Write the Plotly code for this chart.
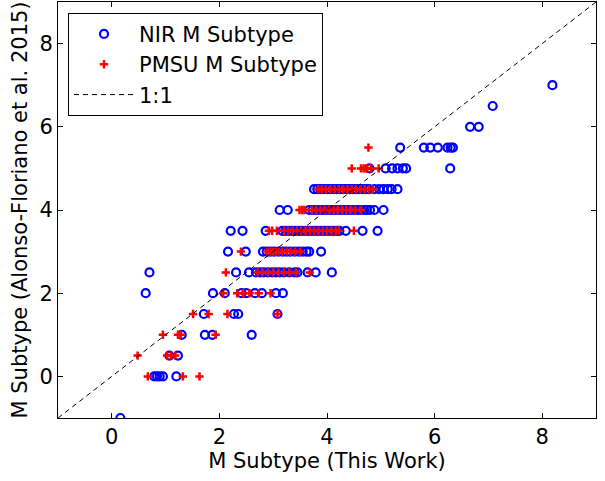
import plotly.graph_objects as go

# ---------------- data ----------------
# NIR M subtype (blue open circles): x = this work, y = Alonso-Floriano et al. 2015
nir_x = [
    0.16,
    0.79, 0.84, 0.89, 0.95, 1.20,
    1.07, 1.23,
    1.30, 1.73, 1.87, 2.60,
    1.71, 2.27, 2.35, 3.08,
    0.63, 1.88, 2.10, 2.41, 2.50, 2.66, 2.79, 3.05, 3.18,
    0.70, 2.31, 2.55, 2.68, 2.75, 2.82, 2.90, 2.98, 3.05, 3.12, 3.20, 3.30, 3.40, 3.45, 3.64, 3.79, 4.09,
    2.16, 2.49, 2.81, 2.88, 2.95, 3.02, 3.10, 3.18, 3.25, 3.32, 3.40, 3.48, 3.55, 3.62, 3.67, 3.89,
    2.21, 2.43, 2.86, 3.17, 3.23, 3.29, 3.35, 3.41, 3.47, 3.53, 3.59, 3.65, 3.71, 3.77, 3.83, 3.89,
    3.95, 4.01, 4.07, 4.13, 4.19, 4.23, 4.35, 4.66, 4.94,
    3.12, 3.27, 3.67, 3.73, 3.79, 3.85, 3.91, 3.97, 4.03, 4.09, 4.15, 4.21, 4.27, 4.33, 4.39, 4.45,
    4.51, 4.57, 4.63, 4.69, 4.74, 4.80, 4.88, 5.05,
    3.76, 3.82, 3.88, 3.94, 4.00, 4.06, 4.12, 4.18, 4.24, 4.30, 4.36, 4.42, 4.48, 4.54, 4.60, 4.66,
    4.72, 4.78, 4.88, 4.97, 5.05, 5.13, 5.20, 5.31,
    4.79, 5.09, 5.21, 5.31, 5.41, 5.47, 6.29,
    5.36, 5.80, 5.92, 6.06, 6.24, 6.30, 6.34,
    6.66, 6.82,
    7.08,
    8.19,
]
nir_y = (
    [-1.0]
    + [0.0] * 5
    + [0.5] * 2
    + [1.0] * 4
    + [1.5] * 4
    + [2.0] * 9
    + [2.5] * 17
    + [3.0] * 16
    + [3.5] * 25
    + [4.0] * 24
    + [4.5] * 24
    + [5.0] * 7
    + [5.5] * 7
    + [6.0] * 2
    + [6.5]
    + [7.0]
)

# PMSU M subtype (red plus markers)
pmsu_x = [
    0.67, 1.32, 1.63,
    0.48, 1.03, 1.10, 1.18,
    0.95, 1.23, 1.28, 1.93,
    1.51, 1.80, 2.15, 3.08,
    2.07, 2.33, 2.44, 2.56, 2.73, 2.95,
    2.12, 2.71, 2.80, 2.90, 3.00, 3.10, 3.20, 3.30, 3.42, 3.68,
    2.40, 2.89, 2.95, 3.00, 3.05, 3.10, 3.17, 3.25, 3.32, 3.40, 3.50,
    2.92, 2.98, 3.07, 3.20, 3.28, 3.36, 3.44, 3.52, 3.60, 3.68, 3.76, 3.84, 3.92, 4.00, 4.08, 4.16,
    4.22, 4.50,
    3.49, 3.54, 3.58, 3.72, 3.80, 3.88, 3.96, 4.04, 4.12, 4.20, 4.28, 4.36, 4.44, 4.52, 4.63,
    3.84, 3.90, 3.98, 4.06, 4.14, 4.22, 4.30, 4.38, 4.46, 4.54, 4.62, 4.70, 4.78, 4.85,
    4.46, 4.63, 4.68, 4.72, 4.75, 4.82, 4.96,
    4.77,
]
pmsu_y = (
    [0.0] * 3
    + [0.5] * 4
    + [1.0] * 4
    + [1.5] * 4
    + [2.0] * 6
    + [2.5] * 10
    + [3.0] * 11
    + [3.5] * 18
    + [4.0] * 15
    + [4.5] * 14
    + [5.0] * 7
    + [5.5]
)

one_to_one = [-1, 9]

x_ticks = [0, 2, 4, 6, 8]
y_ticks = [0, 2, 4, 6, 8]

FONT = "DejaVu Sans"
FS = 21

fig = go.Figure()
fig.add_trace(go.Scatter(
    x=nir_x, y=nir_y, mode="markers", name="NIR M Subtype",
    marker=dict(symbol="circle-open", size=8, color="#0000ff",
                line=dict(color="#0000ff", width=2.2)),
))
fig.add_trace(go.Scatter(
    x=pmsu_x, y=pmsu_y, mode="markers", name="PMSU M Subtype",
    marker=dict(symbol="cross-thin-open", size=6, color="#ff0000",
                line=dict(color="#ff0000", width=2.5)),
))
fig.add_trace(go.Scatter(
    x=one_to_one, y=one_to_one, mode="lines", name="1:1",
    line=dict(color="black", width=1, dash="5px,4px"),
))

axis_common = dict(
    showgrid=False, zeroline=False,
    showline=True, linecolor="black", linewidth=1, mirror="allticks",
    ticks="inside", ticklen=5, tickwidth=1, tickcolor="black",
    tickfont=dict(family=FONT, size=FS, color="black"),
)

fig.update_xaxes(range=[-1, 9], tickvals=x_ticks, ticktext=[str(t) for t in x_ticks],
                 title=dict(text="M Subtype (This Work)", font=dict(family=FONT, size=FS, color="black"),
                            standoff=2),
                 **axis_common)
fig.update_yaxes(range=[-1, 9], tickvals=y_ticks, ticktext=[str(t) for t in y_ticks],
                 title=dict(text="M Subtype (Alonso-Floriano et al. 2015)",
                            font=dict(family=FONT, size=FS, color="black"), standoff=6),
                 **axis_common)

fig.update_layout(
    width=605, height=481,
    margin=dict(l=58, r=9, t=2, b=63),
    paper_bgcolor="white", plot_bgcolor="white",
    font=dict(family=FONT, size=FS, color="black"),
    showlegend=True,
    legend=dict(
        x=0.0186, y=0.974, xanchor="left", yanchor="top",
        bgcolor="white", bordercolor="black", borderwidth=1,
        font=dict(family=FONT, size=FS, color="black"),
        itemwidth=60,
    ),
)

fig.write_html("out.html")
